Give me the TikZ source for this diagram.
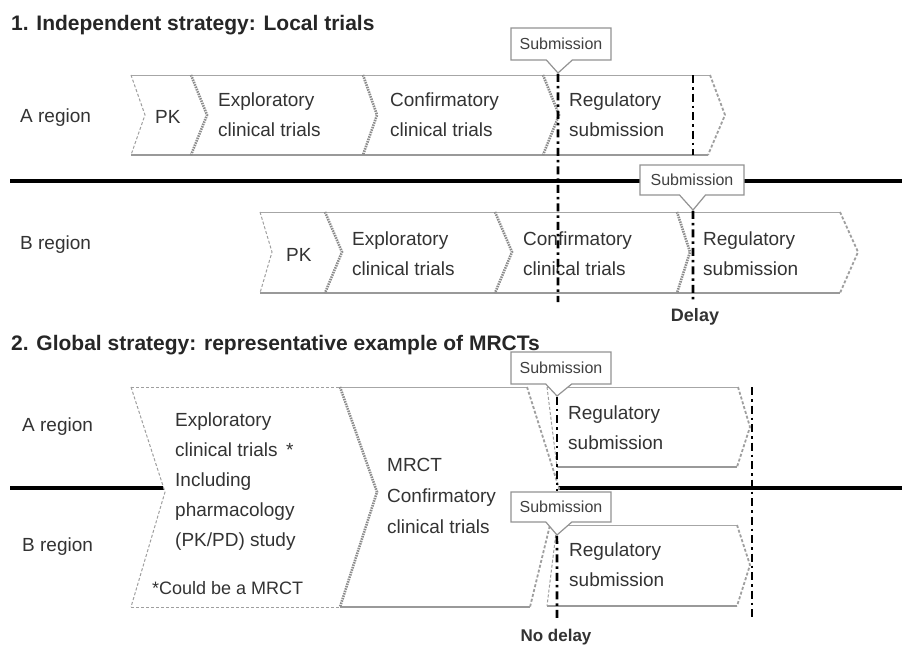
\documentclass[tikz,border=0pt]{standalone}
\usepackage{fontspec}
\setmainfont{Liberation Sans}
\usetikzlibrary{shapes.callouts}

\begin{document}
\begin{tikzpicture}[
  x=1pt, y=-1pt,
  heading/.style={anchor=west, inner sep=0pt, font=\bfseries\fontsize{21}{21}\selectfont, text=black!85},
  region/.style={anchor=west, inner sep=0pt, font=\fontsize{19}{19}\selectfont, text=black!80},
  stage/.style={anchor=west, inner sep=0pt, align=left, font=\fontsize{19}{30}\selectfont, text=black!80},
  note/.style={anchor=west, inner sep=0pt, font=\fontsize{18}{18}\selectfont, text=black!80},
  lag/.style={inner sep=0pt, font=\bfseries\fontsize{18}{18}\selectfont, text=black!80},
  chevline/.style={draw=gray!70, line width=1pt},
  chevbase/.style={draw=gray!80, line width=1.8pt},
  notchedge/.style={draw=gray!90, line width=2.6pt, dash pattern=on 1.5pt off 1pt},
  openedge/.style={draw=gray!75, line width=1pt, dash pattern=on 3pt off 2pt},
  divider/.style={draw=black, line width=3.2pt},
  milestone/.style={draw=black, line width=2.6pt, dash pattern=on 8pt off 4pt on 2.5pt off 4pt},
  subm/.style={rectangle callout, draw=gray!85, fill=white, line width=1.2pt,
    font=\fontsize{16}{16}\selectfont, text=black!75, minimum width=100pt,
    minimum height=32pt, inner sep=1pt, callout pointer width=26pt}
]
\useasboundingbox (0,0) rectangle (902,648);
\fill[white] (0,0) rectangle (902,648);

% section 1
\node[heading] (title1) at (11,25) {1. Independent strategy: Local trials};
\draw[divider] (10,181) -- (902,181);

% A region, local trials
\fill[white] (131,75) -- (710,75) -- (725,115) -- (708,155) -- (131,155) -- (145,115) -- cycle;
\draw[chevline] (131,75) -- (710,75);
\draw[chevbase] (131,155) -- (708,155);
\draw[openedge] (131,75) -- (145,115) -- (131,155);
\draw[notchedge] (191,75) -- (207,115) -- (191,155);
\draw[notchedge] (363,75) -- (377,115) -- (363,155);
\draw[notchedge] (543,75) -- (559,115) -- (543,155);
\draw[openedge, line width=1.8pt] (710,75) -- (725,115) -- (708,155);

% B region, local trials
\fill[white] (260,212) -- (840,212) -- (858,252) -- (840,293) -- (260,293) -- (272,252) -- cycle;
\draw[chevline] (260,212) -- (840,212);
\draw[chevbase] (260,293) -- (840,293);
\draw[openedge] (260,212) -- (272,252) -- (260,293);
\draw[notchedge] (325,212) -- (342,252) -- (325,293);
\draw[notchedge] (495,212) -- (512,252) -- (495,293);
\draw[notchedge] (677,212) -- (690,252) -- (677,293);
\draw[openedge, line width=1.8pt] (840,212) -- (858,252) -- (840,293);

\node[region] (regA1) at (20,118) {A region};
\node[region] (regB1) at (20,245) {B region};

\node[stage] (pkA) at (155,117) {PK};
\node[stage] (expA) at (218,115) {Exploratory\\clinical trials};
\node[stage] (confA) at (390,115) {Confirmatory\\clinical trials};
\node[stage] (regsA) at (569,115) {Regulatory\\submission};

\node[stage] (pkB) at (286,255) {PK};
\node[stage] (expB) at (352,254) {Exploratory\\clinical trials};
\node[stage] (confB) at (523,254) {Confirmatory\\clinical trials};
\node[stage] (regsB) at (703,254) {Regulatory\\submission};

\coordinate (endA1) at (558,302);
\coordinate (stopA1) at (693,75);
\coordinate (stopA2) at (693,155);
\coordinate (endB1) at (693,302);

\node[subm, callout absolute pointer={(558,73)}] (sub1a) at (561,44) {Submission};
\node[subm, minimum width=104pt, minimum height=30pt, callout absolute pointer={(693,210)}] (sub1b) at (692,180) {Submission};

\draw[milestone] (sub1a.pointer) -- (endA1);
\draw[milestone] (stopA1) -- (stopA2);
\draw[milestone] (sub1b.pointer) -- (endB1);

\node[lag] (delay) at (695,317) {Delay};

% section 2
\node[heading] (title2) at (11,345) {2. Global strategy: representative example of MRCTs};
\draw[divider] (10,488) -- (902,488);

% exploratory, both regions
\fill[white] (131,387) -- (340,387) -- (377,492) -- (340,607) -- (131,607) -- (165,492) -- cycle;
\draw[openedge] (131,387) -- (340,387);
\draw[openedge] (131,607) -- (340,607);
\draw[openedge] (131,387) -- (165,492) -- (131,607);

% MRCT
\fill[white] (340,387) -- (527,387) -- (559,488) -- (530,607) -- (340,607) -- (377,492) -- cycle;
\draw[chevline] (340,387) -- (527,387);
\draw[chevbase] (340,607) -- (530,607);
\draw[notchedge] (340,387) -- (377,492) -- (340,607);
\draw[openedge, line width=1.8pt] (527,387) -- (559,488) -- (530,607);

% regulatory submission, A and B
\fill[white] (547,387) -- (738,387) -- (750,427) -- (737,467) -- (557,467) -- cycle;
\draw[chevline] (547,387) -- (738,387);
\draw[chevbase] (557,467) -- (737,467);
\draw[openedge] (547,387) -- (557,467);
\draw[openedge, line width=1.8pt] (738,387) -- (750,427) -- (737,467);

\fill[white] (557,525) -- (737,525) -- (750,565) -- (737,606) -- (547,606) -- cycle;
\draw[chevline] (557,525) -- (737,525);
\draw[chevbase] (547,606) -- (737,606);
\draw[openedge] (557,525) -- (547,606);
\draw[openedge, line width=1.8pt] (737,525) -- (750,565) -- (737,606);

\node[region] (regA2) at (22,427) {A region};
\node[region] (regB2) at (22,547) {B region};

\node[stage] (expG) at (175,482) {Exploratory\\clinical trials \,*\\Including\\pharmacology\\(PK/PD) study};
\node[note] (could) at (152,588) {*Could be a MRCT};
\node[stage, font=\fontsize{19}{31}\selectfont] (mrct) at (387,496) {MRCT\\Confirmatory\\clinical trials};
\node[stage] (regsGA) at (568,428) {Regulatory\\submission};
\node[stage] (regsGB) at (569,565) {Regulatory\\submission};

\coordinate (endG) at (557,621);
\coordinate (topG) at (752,387);
\coordinate (botG) at (752,617);

\node[subm, callout absolute pointer={(557,396)}] (sub2a) at (561,368) {Submission};
\node[subm, minimum height=30pt, callout absolute pointer={(557,535)}] (sub2b) at (561,507) {Submission};

\draw[milestone] (sub2a.pointer) -- (sub2b.north -| sub2a.pointer);
\draw[milestone] (sub2b.pointer) -- (endG);
\draw[milestone] (topG) -- (botG);

\node[lag, font=\bfseries\fontsize{17}{17}\selectfont] (nodelay) at (556,637) {No delay};
\end{tikzpicture}
\end{document}
